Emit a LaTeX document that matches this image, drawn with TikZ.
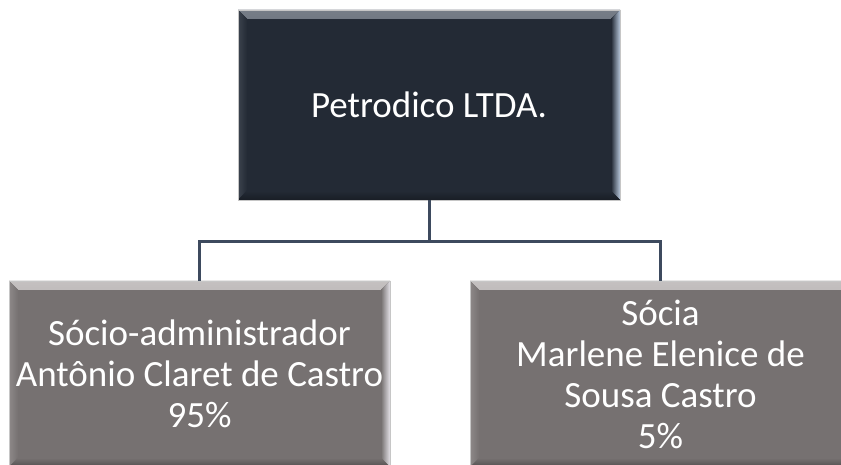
\documentclass[tikz,border=0pt]{standalone}
\usepackage{fontspec}
\setmainfont{Carlito}
\usetikzlibrary{calc}
\definecolor{navybase}{HTML}{232A35}
\definecolor{navylight}{HTML}{767D87}
\definecolor{navyedge}{HTML}{B8C8DC}
\definecolor{graybase}{HTML}{767171}
\definecolor{graylight}{HTML}{C4C0C0}
\definecolor{grayedge}{HTML}{E4E2E8}
\definecolor{linkcol}{HTML}{3D4A5E}
\tikzset{
  bevel/.style n args={3}{
    path picture={
      \fill[top color=#2, bottom color=#1]
        (path picture bounding box.north west) -- (path picture bounding box.north east)
        -- ([shift={(-9pt,-9pt)}]path picture bounding box.north east)
        -- ([shift={(9pt,-9pt)}]path picture bounding box.north west) -- cycle;
      \fill[left color=#1!70!#2, right color=#1]
        (path picture bounding box.north west) -- ([shift={(9pt,-9pt)}]path picture bounding box.north west)
        -- ([shift={(9pt,9pt)}]path picture bounding box.south west)
        -- (path picture bounding box.south west) -- cycle;
      \fill[right color=#3, left color=#1]
        (path picture bounding box.north east) -- ([shift={(-9pt,-9pt)}]path picture bounding box.north east)
        -- ([shift={(-9pt,9pt)}]path picture bounding box.south east)
        -- (path picture bounding box.south east) -- cycle;
      \fill[bottom color=#1!70!black, top color=#1]
        (path picture bounding box.south west) -- ([shift={(9pt,9pt)}]path picture bounding box.south west)
        -- ([shift={(-9pt,9pt)}]path picture bounding box.south east)
        -- (path picture bounding box.south east) -- cycle;
    }
  },
  boxtext/.style={text=white, align=center, font=\fontsize{37pt}{41pt}\selectfont},
  topbox/.style={rectangle, inner sep=0pt, minimum width=382pt, minimum height=190pt,
    fill=navybase, draw=gray!45, line width=0.6pt, bevel={navybase}{navylight}{navyedge}, boxtext},
  partnerbox/.style={rectangle, inner sep=0pt, minimum width=381pt, minimum height=186pt,
    fill=graybase, draw=gray!45, line width=0.6pt, bevel={graybase}{graylight}{grayedge}, boxtext},
  link/.style={draw=linkcol, line width=3pt}
}
\begin{document}
\begin{tikzpicture}[x=1pt,y=1pt]
  \useasboundingbox (0,0) rectangle (841,465);
  \begin{scope}
    \clip (0,0) rectangle (841,465);
    \node[topbox] (top) at (429,360) {Petrodico LTDA.};
    \node[partnerbox] (left) at (199.5,91) {Sócio-administrador\\Antônio Claret de Castro\\95\%};
    \node[partnerbox] (right) at (660.5,91) {Sócia\\Marlene Elenice de\\Sousa Castro\\5\%};
    \coordinate (hub) at ($(top.south)+(0,-41)$);
    \draw[link] (top.south) -- (hub);
    \draw[link] (hub) -| (left.north);
    \draw[link] (hub) -| (right.north);
  \end{scope}
\end{tikzpicture}
\end{document}
